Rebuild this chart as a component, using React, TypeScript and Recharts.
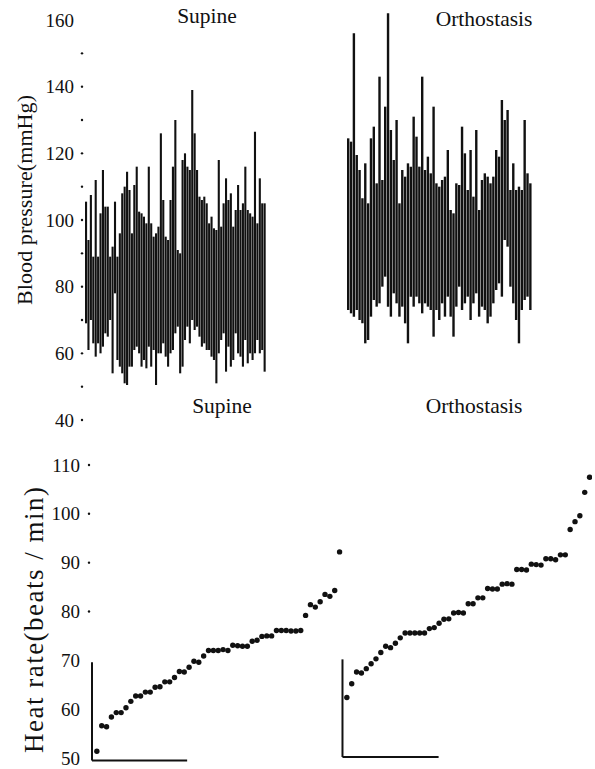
import React from "react"
import { BarChart, Bar, XAxis, YAxis, ScatterChart, Scatter, ReferenceLine } from "recharts"

const FONT = "'Liberation Serif', 'Times New Roman', serif"
const INK = "#111"

// blood pressure range of each subject (mmHg), left to right
const supineHigh = [
  105.5, 94, 107.5, 89, 112, 89, 102, 115, 104, 104, 89, 92, 105.5, 89, 96, 108, 110, 114.5, 109, 96,
  110.5, 116, 102.5, 102, 101, 99, 116, 99, 95, 96, 98, 126, 106, 95, 94, 106, 116, 130,
  91, 90, 118, 120, 116, 115, 139, 126, 115, 107, 106, 107, 105, 99, 101, 97.5, 97, 118, 98, 105,
  112.5, 106, 108, 98, 103, 110.5, 103, 105, 116, 103, 102, 101, 126.5, 99, 112.5, 105, 105,
]
const supineLow = [
  69, 61, 70, 63, 59, 63, 60, 62, 66, 65, 70, 54, 78, 58, 56, 54, 51, 50.5, 56, 56,
  61, 62, 60, 56, 58, 55.5, 62, 56, 61, 50.5, 60, 60, 63, 59, 56, 60, 61, 66,
  68, 54, 56, 64, 68, 63, 70, 67, 68, 65, 62, 63, 61, 61, 59, 58, 51, 60, 64, 66,
  54.5, 62, 56, 58, 66, 60, 59, 56, 64, 57, 60, 58, 60, 64, 60, 61, 54.5,
]
const orthoHigh = [
  124.5, 123.5, 156, 119.5, 115, 106.5, 117, 105, 124.5, 128, 111, 143, 112, 134, 162, 127, 118, 130, 105, 115,
  113, 117, 116, 131, 125, 116, 143, 115, 119, 114, 134,
  111, 110, 112, 113, 121, 103, 102, 111, 110.5, 128, 120, 109, 121, 107, 127, 103, 112, 114, 113,
  111, 113, 121, 119, 136, 130, 133, 109, 117, 109, 110, 109, 130, 114, 111,
]
const orthoLow = [
  73, 72, 71, 73, 70, 69, 63, 64, 71, 76, 74, 75, 80, 83, 74, 71, 78, 75, 71, 74,
  69, 63, 77, 74, 77, 75, 72, 75, 74, 73, 65,
  73, 70, 75, 71, 77, 71, 65, 74, 80, 73, 75, 77, 70, 75, 78, 71, 74, 73, 69,
  71, 75, 79, 81, 77, 94, 92, 80, 75, 70, 63, 73, 76, 77, 73,
]

// heart rate of each subject, sorted (beats / min)
const supineHR = [
  51.4, 56.6, 56.4, 58.4, 59.3, 59.3, 60.3, 61.6, 62.7, 62.7,
  63.5, 63.5, 64.5, 64.6, 65.6, 65.6, 66.5, 67.7, 67.6, 68.6,
  69.8, 69.6, 70.9, 72, 72, 72, 72.2, 72, 73.1, 73,
  72.9, 72.9, 73.9, 74.1, 74.9, 75, 75, 76.1, 76.1, 76.1,
  76, 76, 76.1, 79.2, 81.4, 80.9, 82, 83.5, 83.1, 84.3,
  92.2,
]
const orthoHR = [
  62.4, 65.2, 67.6, 67.4, 68.3, 69.3, 70.3, 71.6, 72.9, 72.6,
  73.5, 74.6, 75.6, 75.6, 75.6, 75.6, 75.6, 76.5, 76.7, 77.6,
  78.4, 78.5, 79.7, 79.8, 79.7, 81.6, 81.6, 82.8, 82.8, 84.7,
  84.6, 84.6, 85.6, 85.7, 85.6, 88.6, 88.6, 88.5, 89.7, 89.6,
  89.5, 90.8, 90.8, 90.6, 91.6, 91.6, 96.8, 98.4, 99.6, 104.4,
  107.5,
]
const ORTHO_OFFSET = 51.5

const bpTicks = [40, 50, 60, 70, 80, 90, 100, 110, 120, 130, 140, 150, 160]
const hrTicks = [50, 60, 70, 80, 90, 100, 110]

// the short axis lines left in the printed figure
const hrAxisStubs = [
  [{ x: -1, y: 69.6 }, { x: -1, y: 49.5 }],
  [{ x: -1, y: 49.5 }, { x: 18.6, y: 49.5 }],
  [{ x: 50.6, y: 70.2 }, { x: 50.6, y: 50.2 }],
  [{ x: 50.6, y: 50.2 }, { x: 70.4, y: 50.2 }],
]

const supineBP = supineHigh.map((h, i) => ({ id: i, range: [supineLow[i], h] }))
const orthoBP = orthoHigh.map((h, i) => ({ id: i, range: [orthoLow[i], h] }))
const supineDots = supineHR.map((v, i) => ({ x: i, y: v }))
const orthoDots = orthoHR.map((v, i) => ({ x: i + ORTHO_OFFSET, y: v }))

function BpTick({ x, y, payload }: any) {
  const v = payload.value
  return (
    <g>
      {v % 20 === 0 && (
        <text x={x - 11} y={y} dy="0.35em" textAnchor="end" fontSize={19} fontFamily={FONT} fill={INK}>
          {v}
        </text>
      )}
      {v !== 160 && <circle cx={x - 3} cy={y} r={1.2} fill={INK} />}
    </g>
  )
}

function HrTick({ x, y, payload }: any) {
  const v = payload.value
  return (
    <g>
      <text x={x - 12} y={y} dy="0.35em" textAnchor="end" fontSize={19} fontFamily={FONT} fill={INK}>
        {v}
      </text>
      {v >= 80 && <circle cx={x - 3} cy={y} r={1.2} fill={INK} />}
    </g>
  )
}

const dot = (p: any) => <circle cx={p.cx} cy={p.cy} r={2.7} fill={INK} />

export default function App() {
  return (
    <div style={{ position: "absolute", left: 0, top: 0, width: 595, height: 769, background: "#fff" }}>
      <div style={{ position: "absolute", left: 0, top: 0 }}>
        <BarChart width={268} height={440} data={supineBP} margin={{ top: 3.33, right: 2, bottom: 20, left: 0 }}>
          <XAxis dataKey="id" hide />
          <YAxis
            width={85}
            domain={[40, 165]}
            ticks={bpTicks}
            axisLine={false}
            tickLine={false}
            tickSize={0}
            tickMargin={0}
            tick={<BpTick />}
            interval={0}
          />
          <Bar dataKey="range" fill={INK} barSize={2.1} isAnimationActive={false} />
        </BarChart>
      </div>

      <div style={{ position: "absolute", left: 347, top: 0 }}>
        <BarChart width={185} height={440} data={orthoBP} margin={{ top: 3.33, right: 0, bottom: 20, left: 0 }}>
          <XAxis dataKey="id" hide />
          <YAxis domain={[40, 165]} hide />
          <Bar dataKey="range" fill={INK} barSize={2.4} isAnimationActive={false} />
        </BarChart>
      </div>

      <div style={{ position: "absolute", left: 0, top: 400 }}>
        <ScatterChart width={592} height={369} margin={{ top: 60.1, right: 0, bottom: 6.1, left: 0 }}>
          <XAxis type="number" dataKey="x" domain={[-1, 102]} hide />
          <YAxis
            type="number"
            dataKey="y"
            width={92}
            domain={[49, 111]}
            ticks={hrTicks}
            axisLine={false}
            tickLine={false}
            tickSize={0}
            tickMargin={0}
            tick={<HrTick />}
            interval={0}
          />
          {hrAxisStubs.map((seg, i) => (
            <ReferenceLine key={i} segment={seg} stroke={INK} strokeWidth={2} ifOverflow="visible" />
          ))}
          <Scatter data={supineDots} fill={INK} shape={dot} isAnimationActive={false} />
          <Scatter data={orthoDots} fill={INK} shape={dot} isAnimationActive={false} />
        </ScatterChart>
      </div>

      {/* titles and axis labels */}
      <svg width={595} height={769} style={{ position: "absolute", left: 0, top: 0, pointerEvents: "none" }}>
        <g fontFamily={FONT} fill={INK} fontSize={21.5} textAnchor="middle">
          <text x={207} y={23}>Supine</text>
          <text x={484} y={26}>Orthostasis</text>
          <text x={222} y={413}>Supine</text>
          <text x={474} y={413}>Orthostasis</text>
          <text transform="translate(32,200) rotate(-90)" fontSize={22} textLength={210} lengthAdjust="spacing">
            Blood pressure(mmHg)
          </text>
          <text transform="translate(43,620) rotate(-90)" fontSize={27} textLength={266} lengthAdjust="spacing">
            Heat rate(beats / min)
          </text>
        </g>
      </svg>
    </div>
  )
}
